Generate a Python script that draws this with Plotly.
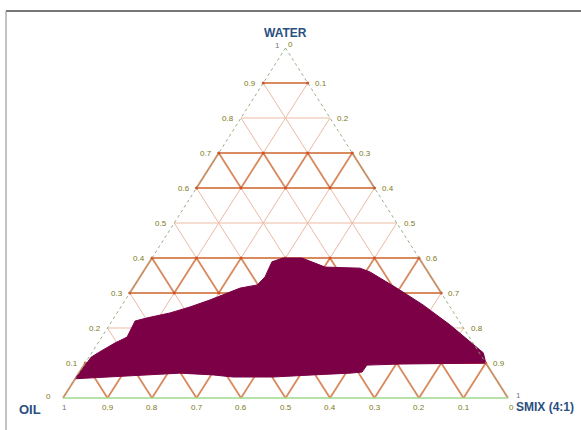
import plotly.graph_objects as go

# Phase boundary of the microemulsion region (fractions, oil + water + smix = 1)
region_water = [0.055, 0.117, 0.137, 0.157, 0.174, 0.209, 0.220, 0.229, 0.243, 0.260,
                0.280, 0.314, 0.323, 0.346, 0.389, 0.400, 0.400, 0.374, 0.371, 0.360,
                0.314, 0.266, 0.209, 0.129, 0.100, 0.097, 0.094, 0.094, 0.074, 0.071,
                0.066, 0.060, 0.060, 0.066, 0.071, 0.060]
region_smix = [0.000, 0.005, 0.021, 0.038, 0.057, 0.053, 0.052, 0.075, 0.119, 0.155,
               0.190, 0.241, 0.275, 0.281, 0.275, 0.294, 0.337, 0.402, 0.482, 0.510,
               0.593, 0.676, 0.765, 0.880, 0.900, 0.709, 0.665, 0.636, 0.635, 0.609,
               0.529, 0.442, 0.352, 0.304, 0.227, 0.076]
region_oil = [round(1 - w - s, 3) for w, s in zip(region_water, region_smix)]

tick_values = [0.1, 0.2, 0.3, 0.4, 0.5, 0.6, 0.7, 0.8, 0.9]
tick_labels = ["0.1", "0.2", "0.3", "0.4", "0.5", "0.6", "0.7", "0.8", "0.9"]
thin_levels = [0.2, 0.5, 0.8]
thick_rows = [0.0, 0.3, 0.6]

W, H = 581, 430
PX0, PX1, PY0, PYTOP = 63, 508, 398, 48
SPAN_X, SPAN_Y = PX1 - PX0, PY0 - PYTOP


def to_xy(water, smix):
    """Ternary composition -> plane coordinates (oil at left, smix at right, water on top)."""
    return smix + water / 2.0, water


GRID_THICK = "#d98a5e"
GRID_THIN = "#ebbba3"
GRID_RED = "#e2542e"
NODE = "#d2502c"
EDGE = "#8aa878"
LABEL = "#7a7a14"
TITLE = "#2a4f80"
FILL = "#7b0046"

fig = go.Figure()


def add_segments(segs, color, width, dash="solid"):
    xs, ys = [], []
    for (w1, s1), (w2, s2) in segs:
        x1, y1 = to_xy(w1, s1)
        x2, y2 = to_xy(w2, s2)
        xs += [x1, x2, None]
        ys += [y1, y2, None]
    fig.add_trace(go.Scatter(x=xs, y=ys, mode="lines", hoverinfo="skip",
                             line=dict(color=color, width=width, dash=dash),
                             showlegend=False))


# Full diagonal grid lines (thin): constant oil and constant smix
diag = []
for v in tick_values:
    diag.append(((1 - v, 0.0), (0.0, 1 - v)))      # constant oil = v
    diag.append(((1 - v, v), (0.0, v)))            # constant smix = v
add_segments(diag, GRID_THIN, 1.0)

# Thick diagonal segments in selected rows
thick_diag = []
for a in thick_rows:
    b = round(a + 0.1, 3)
    for k in range(0, 11):
        v = k / 10
        if 1 - v - b >= -1e-9:
            thick_diag.append(((a, 1 - v - a), (b, 1 - v - b)))   # constant oil v
            thick_diag.append(((a, v), (b, v)))                   # constant smix v
add_segments(thick_diag, GRID_THICK, 1.8)

# Horizontal lines (constant water)
thin_h, thick_h = [], []
for v in tick_values:
    seg = ((v, 0.0), (v, 1 - v))
    if any(abs(v - t) < 1e-9 for t in thin_levels):
        thin_h.append(seg)
    elif abs(v - 0.1) > 1e-9:
        thick_h.append(seg)
add_segments(thin_h, GRID_THIN, 1.2)
add_segments(thick_h, GRID_THICK, 2.0)
add_segments([((0.1, 0.0), (0.1, 0.9))], GRID_RED, 1.8)

# Lattice nodes on the thick horizontals
nx, ny = [], []
for v in tick_values:
    if any(abs(v - t) < 1e-9 for t in thin_levels):
        continue
    k = 0
    while k / 10 <= 1 - v + 1e-9:
        x, y = to_xy(v, k / 10)
        nx.append(x)
        ny.append(y)
        k += 1
fig.add_trace(go.Scatter(x=nx, y=ny, mode="markers", hoverinfo="skip",
                         marker=dict(color=NODE, size=3), showlegend=False))

# Microemulsion region
rx, ry = zip(*[to_xy(w, s) for w, s in zip(region_water, region_smix)])
fig.add_trace(go.Scatter(x=list(rx) + [rx[0]], y=list(ry) + [ry[0]], mode="lines",
                         fill="toself", fillcolor=FILL,
                         line=dict(color=FILL, width=1),
                         customdata=list(zip(region_oil, region_water, region_smix)),
                         hoverinfo="skip", showlegend=False))

# Triangle edges
add_segments([((1.0, 0.0), (0.0, 0.0))], EDGE, 0.9, "3px,3px")
add_segments([((1.0, 0.0), (0.0, 1.0))], EDGE, 0.9, "3px,3px")
add_segments([((0.0, 0.0), (0.0, 1.0))], "#9fd88c", 1.6)

ann = []
dx = 5 / SPAN_X
dy = 9 / SPAN_Y
small = dict(family="Arial, Liberation Sans, sans-serif", size=8, color=LABEL)
for v, t in zip(tick_values, tick_labels):
    # water scale on the left edge
    x, y = to_xy(v, 0.0)
    ann.append(dict(x=x - dx, y=y, text=t, xanchor="right", yanchor="middle",
                    showarrow=False, font=small))
    # smix scale on the right edge (0 at the top)
    x, y = to_xy(1 - v, v)
    ann.append(dict(x=x + dx, y=y, text=t, xanchor="left", yanchor="middle",
                    showarrow=False, font=small))
    # oil scale along the base (1 at the left)
    x, y = to_xy(0.0, 1 - v)
    ann.append(dict(x=x, y=-dy, text=t, xanchor="center", yanchor="middle",
                    showarrow=False, font=small))

gray = dict(family="Arial, Liberation Sans, sans-serif", size=8, color="#777777")
ann += [
    dict(x=0.5 - 8 / SPAN_X, y=1 + 3 / SPAN_Y, text="1", showarrow=False, font=gray),
    dict(x=0.5 + 5 / SPAN_X, y=1 + 4 / SPAN_Y, text="0", showarrow=False, font=small),
    dict(x=-15 / SPAN_X, y=2 / SPAN_Y, text="0", showarrow=False, font=small),
    dict(x=1 / SPAN_X, y=-dy, text="1", showarrow=False, font=gray),
    dict(x=1 + 10 / SPAN_X, y=3 / SPAN_Y, text="1", showarrow=False, font=gray),
    dict(x=1 + 3 / SPAN_X, y=-dy, text="0", showarrow=False, font=small),
]

title_font = dict(family="Arial, Liberation Sans, sans-serif", size=12, color=TITLE)
ann += [
    dict(x=0.5, y=1 + 15 / SPAN_Y, text="<b>WATER</b>", showarrow=False, font=title_font),
    dict(x=-33 / SPAN_X, y=-11 / SPAN_Y, text="<b>OIL</b>", showarrow=False,
         font=dict(title_font, size=13)),
    dict(x=1 + 37 / SPAN_X, y=-9 / SPAN_Y, text="<b>SMIX (4:1)</b>", showarrow=False,
         font=title_font),
]

# Frame lines along the top and left of the page
shapes = [
    dict(type="line", xref="paper", yref="paper", x0=6 / W, x1=1, y0=1 - 11 / H, y1=1 - 11 / H,
         line=dict(color="#4a4a4a", width=1.5)),
    dict(type="line", xref="paper", yref="paper", x0=6 / W, x1=6 / W, y0=0, y1=1 - 11 / H,
         line=dict(color="#9a9a9a", width=1.2)),
]

fig.update_layout(
    width=W, height=H,
    margin=dict(l=0, r=0, t=0, b=0),
    paper_bgcolor="white", plot_bgcolor="white",
    xaxis=dict(range=[-PX0 / SPAN_X, (W - PX0) / SPAN_X], visible=False, fixedrange=True),
    yaxis=dict(range=[(PY0 - H) / SPAN_Y, PY0 / SPAN_Y], visible=False, fixedrange=True),
    annotations=ann, shapes=shapes, showlegend=False,
)

fig.write_html("out.html")
